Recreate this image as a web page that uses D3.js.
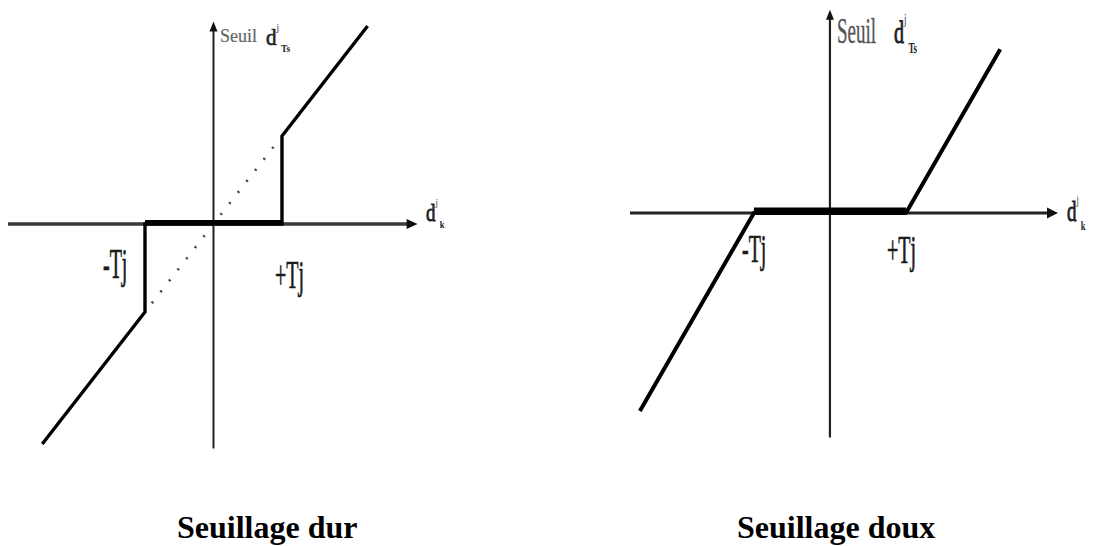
<!DOCTYPE html>
<html>
<head>
<meta charset="utf-8">
<script src="https://cdn.jsdelivr.net/npm/d3@7"></script>
<style>
  html, body { margin: 0; padding: 0; background: #fff; }
  svg { display: block; }
  text { font-family: "Liberation Serif", "Times New Roman", serif; }
</style>
</head>
<body>
<svg id="chart" width="1094" height="546"></svg>
<script>
// Threshold value (both panels use +/-T)
const threshold = 1;

// Hard thresholding: output is the input outside [-T, T], zero inside
const hardX = [-2.5, -1, -1, 1, 1, 2.25];
const hardY = [-2.5, -1, 0, 0, 1, 2.25];
// Identity reference (dotted) across the dead zone
const identityX = [-0.9, 0.9];
const identityY = [-0.9, 0.9];

// Soft thresholding: output shrunk towards zero by T
const softX = [-2.5, -1, 1, 2.24];
const softY = [-1.5, 0, 0, 1.24];

const tickLabels = ["-Tj", "+Tj"];
const titles = ["Seuillage dur", "Seuillage doux"];

const svg = d3.select("#chart");

function arrowHead(g, x, y, dir, len, half) {
  let pts;
  if (dir === "right") pts = [[x, y], [x - len, y - half], [x - len, y + half]];
  else pts = [[x, y], [x - half, y + len], [x + half, y + len]];
  g.append("path").attr("d", d3.line()(pts) + "Z").attr("fill", "#111");
}

// stretched serif text, positioned by left edge and baseline
function label(g, x, y, str, size, sy, opts = {}) {
  return g.append("text")
    .attr("transform", `translate(${x},${y}) scale(1,${sy})`)
    .attr("font-size", size)
    .attr("fill", opts.fill || "#1a1a1a")
    .attr("stroke", opts.fill || "#1a1a1a")
    .attr("stroke-width", opts.sw == null ? 0.35 : opts.sw)
    .attr("font-weight", opts.weight || "normal")
    .text(str);
}

// d^j_sub symbol
function dSymbol(g, x, y, sy, sub, size) {
  const grp = g.append("g").attr("transform", `translate(${x},${y}) scale(1,${sy})`);
  grp.append("text").attr("font-size", size).attr("fill", "#222")
    .attr("stroke", "#222").attr("stroke-width", 0.6).text("d");
  grp.append("text").attr("x", size * 0.5).attr("y", -size * 0.6)
    .attr("font-size", size * 0.45).attr("fill", "#333").text("j");
  grp.append("text").attr("x", size * 0.72).attr("y", size * 0.3)
    .attr("font-size", size * 0.45).attr("font-weight", "bold").attr("fill", "#222").text(sub);
}

// ---------- Left panel: hard thresholding ----------
{
  const x = d3.scaleLinear().domain([-3, 2.98]).range([8, 417.6]);
  const y = d3.scaleLinear().domain([-2.55, 2.3]).range([448.4, 21.6]);
  const g = svg.append("g");
  const line = d3.line().x(d => x(d[0])).y(d => y(d[1]));

  // axes
  g.append("line").attr("x1", x(-3)).attr("x2", x(2.98) - 8)
    .attr("y1", y(0)).attr("y2", y(0)).attr("stroke", "#3a3a3a").attr("stroke-width", 3.5);
  arrowHead(g, x(2.98), y(0), "right", 11, 5);
  g.append("line").attr("x1", x(0)).attr("x2", x(0))
    .attr("y1", y(-2.55)).attr("y2", y(2.3) + 8).attr("stroke", "#222").attr("stroke-width", 2);
  arrowHead(g, x(0), y(2.3), "up", 10, 4);

  // dotted identity line
  g.append("path").attr("d", line(d3.zip(identityX, identityY)))
    .attr("fill", "none").attr("stroke", "#444").attr("stroke-width", 2.6)
    .attr("stroke-dasharray", "2,12");

  // dead zone (thick)
  g.append("path").attr("d", line([[-threshold, 0], [threshold, 0]]))
    .attr("transform", "translate(0,-1.5)")
    .attr("fill", "none").attr("stroke", "#000").attr("stroke-width", 5);

  // hard threshold curve
  g.append("path").attr("d", line(d3.zip(hardX, hardY)))
    .attr("fill", "none").attr("stroke", "#000").attr("stroke-width", 3.4)
    .attr("stroke-linejoin", "miter");

  label(g, 103, 278, tickLabels[0], 20, 2.1);
  label(g, 275, 288, tickLabels[1], 20, 2.0);
  label(g, 220, 42, "Seuil", 18, 1.05, { fill: "#666", sw: 0.2 });
  dSymbol(g, 266, 45, 1.1, "Ts", 21);
  dSymbol(g, 426, 221, 1.3, "k", 19);

  g.append("text").attr("x", 177).attr("y", 538)
    .attr("font-size", 32).attr("font-weight", "bold").attr("fill", "#000").text(titles[0]);
}

// ---------- Right panel: soft thresholding ----------
{
  const x = d3.scaleLinear().domain([-2.63, 3]).range([630, 1058]);
  const y = d3.scaleLinear().domain([-1.7, 1.54]).range([437.4, 9.7]);
  const g = svg.append("g");
  const line = d3.line().x(d => x(d[0])).y(d => y(d[1]));

  g.append("line").attr("x1", x(-2.63)).attr("x2", x(3) - 8)
    .attr("y1", y(0)).attr("y2", y(0)).attr("stroke", "#222").attr("stroke-width", 3);
  arrowHead(g, x(3), y(0), "right", 11, 5.5);
  g.append("line").attr("x1", x(0)).attr("x2", x(0))
    .attr("y1", y(-1.7)).attr("y2", y(1.54) + 8).attr("stroke", "#222").attr("stroke-width", 2.2);
  arrowHead(g, x(0), y(1.54), "up", 10, 4);

  // dead zone (thick)
  g.append("path").attr("d", line([[-threshold, 0], [threshold, 0]]))
    .attr("transform", "translate(0,-2.5)")
    .attr("fill", "none").attr("stroke", "#000").attr("stroke-width", 6);

  g.append("path").attr("d", line(d3.zip(softX, softY)))
    .attr("fill", "none").attr("stroke", "#000").attr("stroke-width", 4)
    .attr("stroke-linejoin", "round");

  label(g, 742, 262, tickLabels[0], 20, 2.05);
  label(g, 887, 263, tickLabels[1], 20, 2.05);
  label(g, 837, 43, "Seuil", 19, 1.9, { fill: "#555", sw: 0.2 });
  dSymbol(g, 894, 43, 1.6, "Ts", 20);
  dSymbol(g, 1067, 221, 1.5, "k", 19);

  g.append("text").attr("x", 737).attr("y", 538)
    .attr("font-size", 32).attr("font-weight", "bold").attr("fill", "#000").text(titles[1]);
}
</script>
</body>
</html>
